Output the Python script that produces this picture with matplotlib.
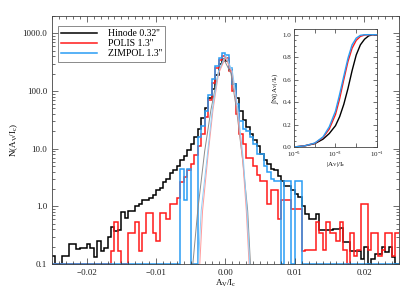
"""Histogram of A_V/I_c for Hinode, POLIS and ZIMPOL with cumulative inset."""
import matplotlib
matplotlib.use("Agg")
import matplotlib.pyplot as plt
import numpy as np
from matplotlib.ticker import FixedLocator, MultipleLocator, NullFormatter

plt.rcParams['font.family'] = ['Liberation Serif', 'DejaVu Serif']
plt.rcParams['mathtext.fontset'] = 'custom'
plt.rcParams['mathtext.rm'] = 'Liberation Serif'
plt.rcParams['mathtext.it'] = 'Liberation Serif'

# histogram bins: 0.0005 wide from -0.025 to 0.025 (counts, 0 = empty bin)
bin_lo, bin_hi, n_bins = -0.025, 0.025, 100

hinode = [
    0.14, 0, 0, 0.14, 0.14, 0.22, 0.22, 0.18, 0.19, 0.19,
    0.22, 0.19, 0.13, 0.25, 0.17, 0.19, 0.29, 0.44, 0.38, 0.39,
    0.79, 0.63, 0.84, 0.84, 1.0, 1.1, 1.3, 1.3, 1.4, 1.6,
    1.9, 2.1, 2.7, 3.0, 3.8, 4.3, 5.0, 6.5, 7.5, 9.5,
    12, 16, 22, 34, 50, 75, 110, 190, 300, 360,
    330, 230, 130, 75, 45, 32, 24, 18, 14, 11,
    8, 6.5, 5.5, 4.5, 4.2, 3.4, 2.8, 2.3, 2.3, 1.9,
    1.65, 1.45, 1.0, 0.74, 0.6, 0.6, 0.74, 0.39, 0.39, 0.39,
    0.39, 0.4, 0.4, 0.42, 0.24, 0.24, 0.17, 0.17, 0.17, 0.12,
    0.2, 0, 0.12, 0.15, 0.15, 0.2, 0.16, 0.2, 0.13, 0.1,
]
polis = [
    0, 0, 0, 0, 0, 0, 0, 0, 0, 0,
    0, 0, 0, 0, 0, 0, 0, 0.17, 0.53, 0.17,
    0, 0, 0.35, 0.35, 0.53, 0.17, 0.35, 0.78, 0.78, 0.35,
    0.25, 0.78, 0.78, 0.6, 1.1, 1.1, 1.4, 2.6, 3.2, 4.2,
    5.5, 7.7, 11, 18, 35, 70, 140, 250, 340, 400,
    380, 220, 100, 40, 18, 12, 7, 7, 5, 3.5,
    2.8, 2.8, 1.1, 1.9, 1.9, 0.6, 1.3, 1.3, 1.3, 0.9,
    0.9, 0.9, 0.17, 0.175, 0.175, 0.175, 0.53, 0.35, 0.175, 0.53,
    0.35, 0.35, 0.25, 0.53, 0.175, 0, 0.35, 0.14, 0.175, 1.1,
    1.1, 0.175, 0.35, 0.35, 0.14, 0.175, 0.35, 0.35, 0.14, 0.35,
]
zimpol = [
    0, 0, 0, 0, 0, 0, 0, 0, 0, 0,
    0, 0, 0, 0, 0, 0, 0, 0, 0, 0,
    0, 0, 0, 0, 0, 0, 0, 0, 0, 0,
    0, 0, 0, 0, 0, 0, 0, 4.5, 1.3, 4.5,
    0, 0, 16, 25, 45, 85, 165, 270, 370, 460,
    420, 250, 130, 60, 30, 22, 20, 16, 12, 8,
    8, 5, 4, 3, 2.8, 2.8, 0, 2.8, 2.8, 0,
    2.8, 2.8, 0, 0, 0, 0, 0, 0, 0, 0,
    0, 0, 0, 0, 0, 0, 0, 0, 0, 0,
    0, 0, 0, 0, 0, 0, 0, 0, 0, 0,
]

# gaussian fits (thin lines)
fit_hinode_x = [-0.0047, -0.0040, -0.0030, -0.0021, -0.0010, -0.0002, 0.0008, 0.0016, 0.0025, 0.0032, 0.0036]
fit_hinode_y = [0.1, 0.84, 9, 47, 220, 350, 200, 47, 6, 0.84, 0.1]
fit_polis_x = [-0.0037, -0.0033, -0.0025, -0.0018, -0.0010, 0.0, 0.0010, 0.0017, 0.0025, 0.0030, 0.0034]
fit_polis_y = [0.1, 0.84, 8, 47, 200, 380, 200, 47, 6, 0.84, 0.1]
fit_zimpol_x = [-0.0039, -0.0035, -0.0026, -0.0019, -0.0010, 0.0, 0.0010, 0.0018, 0.0026, 0.0031, 0.0035]
fit_zimpol_y = [0.1, 0.84, 8, 47, 220, 420, 220, 47, 6, 0.84, 0.1]

# inset: cumulative distributions of |A_V|/I_c
cdf_logx = [-5, -4.5, -4, -3.6, -3.3, -3.0, -2.8, -2.6, -2.4, -2.2, -2.0, -1.8, -1.6, -1.4, -1.2, -1]
cdf_hinode = [0.0, 0.01, 0.03, 0.07, 0.12, 0.19, 0.27, 0.38, 0.52, 0.68, 0.82, 0.91, 0.96, 0.99, 1.0, 1.0]
cdf_polis = [0.0, 0.01, 0.033, 0.085, 0.16, 0.29, 0.43, 0.60, 0.76, 0.88, 0.95, 0.985, 0.997, 1.0, 1.0, 1.0]
cdf_zimpol = [0.0, 0.01, 0.035, 0.09, 0.18, 0.32, 0.47, 0.63, 0.79, 0.91, 0.97, 0.995, 1.0, 1.0, 1.0, 1.0]

labels = ["Hinode 0.32''", "POLIS 1.3''", "ZIMPOL 1.3''"]
colors = ['black', '#ff1a1a', '#2a9df4']
fit_colors = ['#8c8c8c', '#ff9a9a', '#8fcff8']
floor = 0.1

fig = plt.figure(figsize=(4.15, 2.97), dpi=100)
ax = fig.add_axes([0.1253, 0.111, 0.836, 0.835])

edges = np.linspace(bin_lo, bin_hi, n_bins + 1)
for vals, c, lab in zip([hinode, polis, zimpol], colors, labels):
    v = np.maximum(np.array(vals, dtype=float), floor)
    ax.stairs(v, edges, baseline=None, color=c, lw=1.1, label=lab, clip_on=False)

for fx, fy, c in zip([fit_hinode_x, fit_polis_x, fit_zimpol_x],
                     [fit_hinode_y, fit_polis_y, fit_zimpol_y], fit_colors):
    ax.plot(fx, fy, color=c, lw=0.7)

ax.set_yscale('log')
ax.set_xlim(bin_lo, bin_hi)
ax.set_ylim(0.1, 2000)
ax.set_yticks([0.1, 1, 10, 100, 1000])
ax.set_yticklabels(['0.1', '1.0', '10.0', '100.0', '1000.0'])
ax.yaxis.set_minor_formatter(NullFormatter())
ax.set_xticks([-0.02, -0.01, 0.0, 0.01, 0.02])
ax.set_xticklabels(['\u22120.02', '\u22120.01', '0.00', '0.01', '0.02'])
ax.xaxis.set_minor_locator(MultipleLocator(0.001))
ax.tick_params(which='both', direction='in', top=True, right=True, labelsize=6.5,
               width=0.5, colors='#333333', labelcolor='#222222')
ax.tick_params(which='major', length=4)
ax.tick_params(which='minor', length=2)
for s in ax.spines.values():
    s.set_linewidth(0.6)
    s.set_color('#444444')
ax.set_xlabel('A$_\\mathrm{V}$/I$_\\mathrm{c}$', fontsize=6.5, labelpad=1)
ax.set_ylabel('N(A$_\\mathrm{V}$/I$_\\mathrm{c}$)', fontsize=6.5, labelpad=2)

leg = ax.legend(loc='upper left', bbox_to_anchor=(0.017, 0.96), fontsize=7, frameon=True,
                fancybox=False, edgecolor='#555555', handlelength=3.7, handletextpad=1.1,
                borderpad=0.35, labelspacing=0.1, borderaxespad=0)
leg.get_frame().set_linewidth(0.6)

# inset with cumulative distributions
ins = fig.add_axes([0.7084, 0.505, 0.2, 0.397])
for cy, c in zip([cdf_hinode, cdf_polis, cdf_zimpol], colors):
    ins.plot(10.0 ** np.array(cdf_logx), cy, color=c, lw=1.0)
ins.set_xscale('log')
ins.set_xlim(1e-5, 1e-1)
ins.set_ylim(0.0, 1.05)
ins.xaxis.set_major_locator(FixedLocator([1e-5, 1e-4, 1e-3, 1e-2, 1e-1]))
ins.set_xticklabels(['10$^{-5}$', '', '10$^{-3}$', '', '10$^{-1}$'])
ins.xaxis.set_minor_formatter(NullFormatter())
ins.set_yticks([0.0, 0.2, 0.4, 0.6, 0.8, 1.0])
ins.set_yticklabels(['0.0', '0.2', '0.4', '0.6', '0.8', '1.0'])
ins.yaxis.set_minor_locator(MultipleLocator(0.05))
ins.tick_params(which='both', direction='in', top=True, right=True, labelsize=5,
                width=0.5, colors='#333333', labelcolor='#222222', pad=2)
ins.tick_params(which='major', length=3)
ins.tick_params(which='minor', length=1.5)
for s in ins.spines.values():
    s.set_linewidth(0.6)
    s.set_color('#444444')
ins.set_xlabel('|A$_\\mathrm{V}$|/I$_\\mathrm{c}$', fontsize=5, labelpad=1)
ins.set_ylabel('\u222bN(|A$_\\mathrm{V}$|/I$_\\mathrm{c}$)', fontsize=5, labelpad=1)

fig.savefig('out.png', dpi=100)
